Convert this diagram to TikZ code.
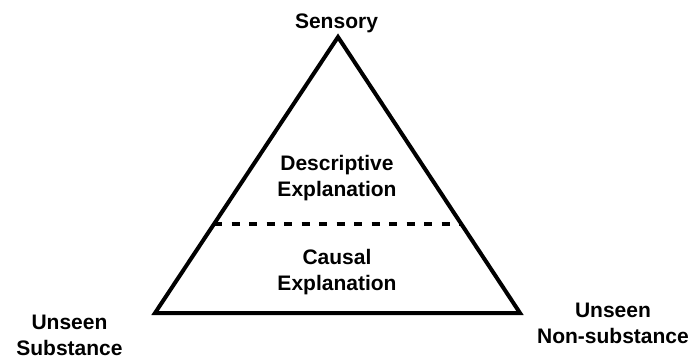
\documentclass[tikz,border=0pt]{standalone}
\usepackage{fontspec}
\setmainfont{Liberation Sans}
\usetikzlibrary{calc}

\begin{document}
\begin{tikzpicture}[x=1pt,y=-1pt,line width=4pt,
  txt/.style={font=\fontsize{21}{26}\selectfont\bfseries,align=center,inner sep=0pt},
  divider/.style={dash pattern=on 8pt off 9.5pt}]

\useasboundingbox (0,0) rectangle (694,359);

% corners of the triangle
\coordinate (T)  at (338,37);
\coordinate (BL) at (155,313);
\coordinate (BR) at (520,313);

\draw[line join=miter] (T) -- (BL) -- (BR) -- cycle;

% dashed split between the two parts
\coordinate (DL) at ($(T)!0.6775!(BL)$);
\coordinate (DR) at ($(T)!0.6775!(BR)$);
\draw[divider] (DL) -- (DR);

\node[txt, anchor=base] (sens) at (336.5,28) {Sensory};
\node[txt] (desc)  at (337,178) {Descriptive\\Explanation};
\node[txt] (caus)  at (337,272) {Causal\\Explanation};
\node[txt] (subst) at (69.5,335) {Unseen\\Substance};
\node[txt] (nons)  at (613,323) {Unseen\\Non-substance};

\end{tikzpicture}
\end{document}
